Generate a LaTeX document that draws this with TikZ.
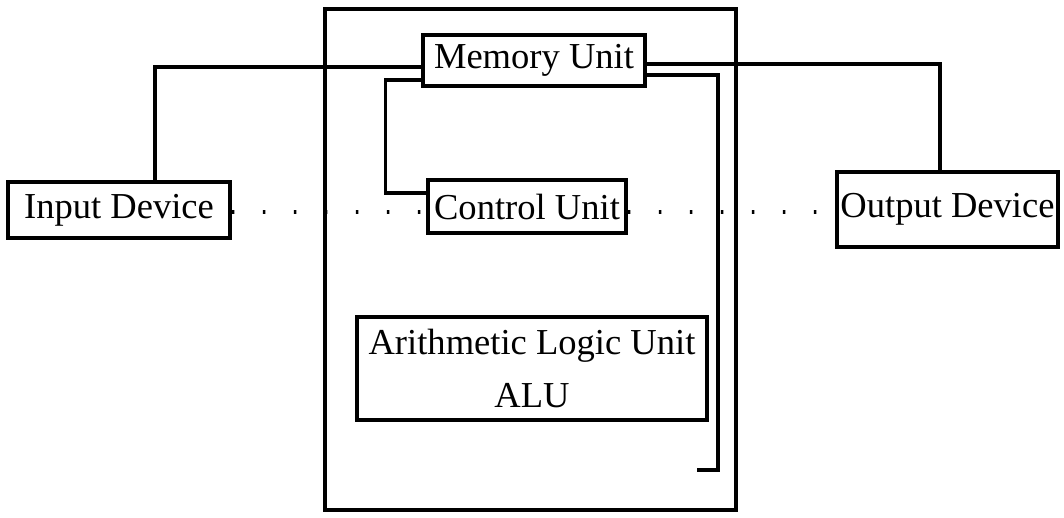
\documentclass[tikz,border=0pt]{standalone}
\usepackage{fontspec}
\setmainfont{Liberation Serif}
\usepackage{tikz}
\usetikzlibrary{positioning, calc}

\begin{document}
\begin{tikzpicture}[
        x=0.02cm, y=-0.02cm,
        unitbox/.style={draw, line width=2.1pt, rectangle, inner xsep=0pt, align=center, font=\fontsize{20.8}{30.6}\selectfont},
        link/.style={line width=1.9pt},
        dots/.style={line width=2pt, dash pattern=on 0.05cm off 0.57cm}
    ]
        \useasboundingbox (0,0) rectangle (1064,517);

        % CPU casing
        \node[draw, line width=2.1pt, rectangle, minimum width=8.22cm, minimum height=10.02cm] (cpu) at (530.5, 259.5) {};

        % Units inside the CPU
        \node[unitbox, minimum width=4.44cm, minimum height=1.02cm] (mem) at (534, 60.5) {Memory Unit};
        \node[unitbox, minimum width=3.96cm, minimum height=1.06cm] (ctrl) at (527, 206.5) {Control Unit};
        \node[unitbox, minimum width=7.0cm, minimum height=2.06cm] (alu) at (532, 368.5) {Arithmetic Logic Unit\\ALU};

        % Devices
        \node[unitbox, minimum width=4.44cm, minimum height=1.12cm] (input) at (119, 210) {Input Device};
        \node[unitbox, minimum width=4.42cm, minimum height=1.5cm] (output) at (947.5, 209.5) {Output Device};

        % Lines to memory
        \coordinate (stub) at (697, 470);
        \draw[link] ([xshift=0.72cm]input.north) |- ([yshift=-0.13cm]mem.west);
        \draw[link] ([yshift=-0.39cm]mem.west) -- ++(-36, 0) |- ([yshift=0.27cm]ctrl.west);
        \draw[link] ([yshift=-0.07cm]mem.east) -| ([xshift=-0.15cm]output.north);
        \draw[link] ([yshift=-0.29cm]mem.east) -| (718, 470) -- (stub);

        % Dotted path
        \draw[dots] ([yshift=-0.04cm]input.east) -- ([yshift=-0.11cm]ctrl.west);
        \draw[dots] ([yshift=-0.11cm]ctrl.east) -- ([yshift=-0.05cm]output.west);
    \end{tikzpicture}
\end{document}
